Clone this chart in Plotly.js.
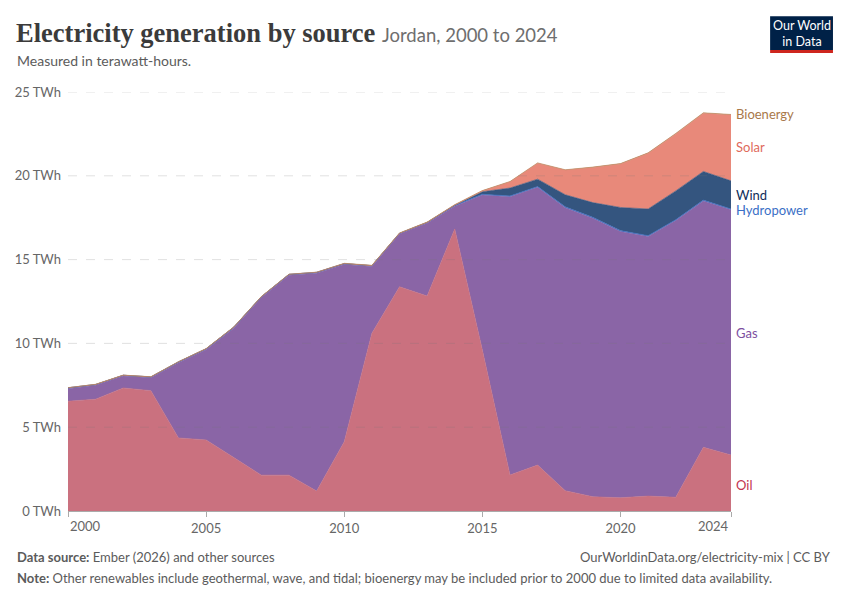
<!DOCTYPE html>
<html>
<head>
<meta charset="utf-8">
<script src="https://cdn.plot.ly/plotly-3.0.1.min.js"></script>
<style>
html,body{margin:0;padding:0;background:#fff;}
#chart{width:850px;height:600px;}
</style>
</head>
<body>
<div id="chart"></div>
<script>
const years = [2000,2001,2002,2003,2004,2005,2006,2007,2008,2009,2010,2011,2012,2013,2014,2015,2016,2017,2018,2019,2020,2021,2022,2023,2024];
const oil = [6.55,6.67,7.34,7.18,4.36,4.24,3.19,2.14,2.14,1.19,4.13,10.6,13.38,12.83,16.83,9.6,2.15,2.74,1.21,0.85,0.79,0.89,0.82,3.8,3.34];
const gas = [0.75,0.83,0.71,0.77,4.49,5.38,7.72,10.6,11.93,13.0,10.58,3.99,3.14,4.34,1.36,9.25,16.6,16.57,16.89,16.62,15.89,15.49,16.51,14.7,14.63];
const hydropower = [0.05,0.05,0.05,0.05,0.05,0.06,0.06,0.05,0.05,0.05,0.05,0.05,0.05,0.05,0.05,0.05,0.05,0.05,0.05,0.05,0.05,0.05,0.05,0.05,0.05];
const wind = [0,0,0,0,0,0,0,0,0,0,0,0,0,0,0.01,0.15,0.47,0.44,0.72,0.88,1.38,1.59,1.72,1.71,1.68];
const solar = [0,0,0,0,0,0,0,0,0,0,0,0,0,0,0.01,0.05,0.37,0.95,1.47,2.1,2.6,3.33,3.4,3.47,3.93];
const bioenergy = [0.01,0.01,0.01,0.01,0.01,0.01,0.01,0.01,0.01,0.01,0.02,0.02,0.02,0.02,0.02,0.02,0.02,0.02,0.02,0.02,0.02,0.02,0.03,0.03,0.03];

const xTicks = [2000,2005,2010,2015,2020,2024];
const yTicks = [0,5,10,15,20,25];
const yTickText = ['0 TWh','5 TWh','10 TWh','15 TWh','20 TWh','25 TWh'];

const series = [
  {name:'Oil', y:oil, fill:'#ca717f', label:'#c3344f', ly:1.55},
  {name:'Gas', y:gas, fill:'#8a65a6', label:'#7d4f9f', ly:10.62},
  {name:'Hydropower', y:hydropower, fill:'#3d6fc4', label:'#3b6fc6', ly:17.96},
  {name:'Wind', y:wind, fill:'#34557f', label:'#0f2d5a', ly:18.85},
  {name:'Solar', y:solar, fill:'#e8897a', label:'#e06a5b', ly:21.72},
  {name:'Bioenergy', y:bioenergy, fill:'#b5875a', label:'#a9784a', ly:23.69}
];

const traces = series.map(s => ({
  type:'scatter', mode:'lines', x:years, y:s.y, name:s.name,
  stackgroup:'one', line:{width:0.6, color:s.fill}, fillcolor:s.fill,
  hoverinfo:'skip'
}));

const FONT = 'Lato, "Open Sans", sans-serif';
const annotations = [];
series.forEach(s => {
  annotations.push({xref:'paper', x:1, xshift:3, xanchor:'left', yref:'y', y:s.ly, yanchor:'middle',
    text:s.name, showarrow:false, font:{family:FONT, size:13, color:s.label}});
});
annotations.push({xref:'x', x:xTicks[0], xanchor:'left', yref:'paper', y:0, yanchor:'top', yshift:-5,
  text:String(xTicks[0]), showarrow:false, font:{family:FONT, size:13, color:'#666'}});
annotations.push({xref:'x', x:xTicks[xTicks.length-1], xanchor:'right', yref:'paper', y:0, yanchor:'top', yshift:-5,
  text:String(xTicks[xTicks.length-1]), showarrow:false, font:{family:FONT, size:13, color:'#666'}});

annotations.push({xref:'paper', yref:'paper', x:-0.0815, y:1.100, xanchor:'left', yanchor:'bottom', showarrow:false,
  text:'<b>Electricity generation by source</b> <span style="font-family:Lato, sans-serif;font-size:18.5px;color:#6e6e6e;font-weight:normal">Jordan, 2000 to 2024</span>',
  font:{family:'"Liberation Serif", "DejaVu Serif", serif', size:26.5, color:'#3b3b3b'}});
annotations.push({xref:'paper', yref:'paper', x:-0.0800, y:1.050, xanchor:'left', yanchor:'bottom', showarrow:false,
  text:'Measured in terawatt-hours.', font:{family:FONT, size:14, color:'#5b5b5b'}});
annotations.push({xref:'paper', yref:'paper', x:-0.0800, y:-0.085, xanchor:'left', yanchor:'top', showarrow:false,
  text:'<b>Data source:</b> Ember (2026) and other sources', font:{family:FONT, size:13, color:'#5b5b5b'}});
annotations.push({xref:'paper', yref:'paper', x:1.1538, y:-0.085, xanchor:'right', yanchor:'top', showarrow:false,
  text:'OurWorldinData.org/electricity-mix | CC BY', font:{family:FONT, size:13, color:'#5b5b5b'}});
annotations.push({xref:'paper', yref:'paper', x:-0.0800, y:-0.137, xanchor:'left', yanchor:'top', showarrow:false,
  text:'<b>Note:</b> Other renewables include geothermal, wave, and tidal; bioenergy may be included prior to 2000 due to limited data availability.',
  font:{family:FONT, size:13, color:'#5b5b5b'}});
annotations.push({xref:'paper', yref:'paper', x:1.1064, y:1.1396, xanchor:'center', yanchor:'middle', showarrow:false,
  text:'Our World<br>in Data', font:{family:FONT, size:12.5, color:'#ffffff'}, align:'center'});

const shapes = [];
yTicks.filter(v => v > 0).forEach(v => {
  shapes.push({type:'line', xref:'paper', x0:0, x1:1, yref:'y', y0:v, y1:v, layer:'above',
    line:{color:'rgba(120,120,120,0.22)', width:1, dash:'dash'}});
});
shapes.push({type:'rect', xref:'paper', yref:'paper', x0:1.059, x1:1.1538, y0:1.100, y1:1.181, fillcolor:'#002147', line:{width:0}, layer:'above'});
shapes.push({type:'rect', xref:'paper', yref:'paper', x0:1.059, x1:1.1538, y0:1.093, y1:1.100, fillcolor:'#ce261e', line:{width:0}, layer:'above'});

const layout = {
  width:850, height:600,
  margin:{l:68, r:119, t:92, b:89},
  paper_bgcolor:'#fff', plot_bgcolor:'#fff',
  showlegend:false,
  font:{family:FONT, color:'#666'},
  xaxis:{range:[2000,2024], tickvals:xTicks, ticktext:xTicks.map((v,i)=> (i===0||i===xTicks.length-1)?'':String(v)),
    ticks:'outside', ticklen:5, tickcolor:'#aaa', showgrid:false, zeroline:false,
    showline:true, linecolor:'#aaa', linewidth:1, tickfont:{family:FONT, size:13, color:'#666'}, fixedrange:true},
  yaxis:{range:[0,25], tickvals:yTicks, ticktext:yTickText, showgrid:false, zeroline:false, showline:false,
    ticks:'', tickfont:{family:FONT, size:13, color:'#666'}, ticklabelstandoff:6, fixedrange:true},
  annotations:annotations,
  shapes:shapes
};

Plotly.newPlot('chart', traces, layout, {displayModeBar:false, staticPlot:true});
</script>
</body>
</html>
